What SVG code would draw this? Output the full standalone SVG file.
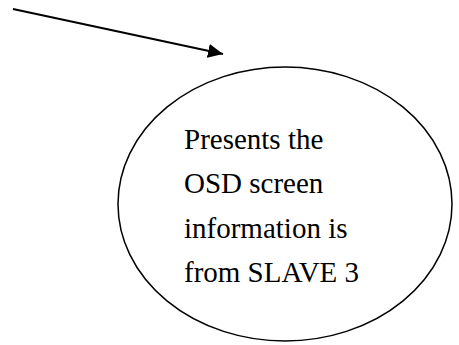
<svg xmlns="http://www.w3.org/2000/svg" width="459" height="345" viewBox="0 0 459 345">
<style>
.t{font-family:"Liberation Serif","Times New Roman",serif;font-size:29px;fill:#000}
.e{fill:#fff;stroke:#000;stroke-width:1.5}
.c{stroke:#000;stroke-width:2;fill:none}
</style>
<defs>
<marker id="ah" markerUnits="userSpaceOnUse" markerWidth="18" markerHeight="16" refX="15" refY="8" orient="auto">
<path d="M0,1 L15,8 L0,15 Z" fill="#000"/>
</marker>
</defs>
<rect width="459" height="345" fill="#fff"/>
<g id="connectors">
<line class="c" x1="13" y1="9" x2="223" y2="54" marker-end="url(#ah)"/>
</g>
<g id="node1">
<ellipse class="e" cx="285" cy="204" rx="167" ry="137"/>
<text class="t" x="184" y="149">Presents the</text>
<text class="t" x="184" y="193">OSD screen</text>
<text class="t" x="184" y="238">information is</text>
<text class="t" x="184" y="282">from SLAVE 3</text>
</g>
</svg>
